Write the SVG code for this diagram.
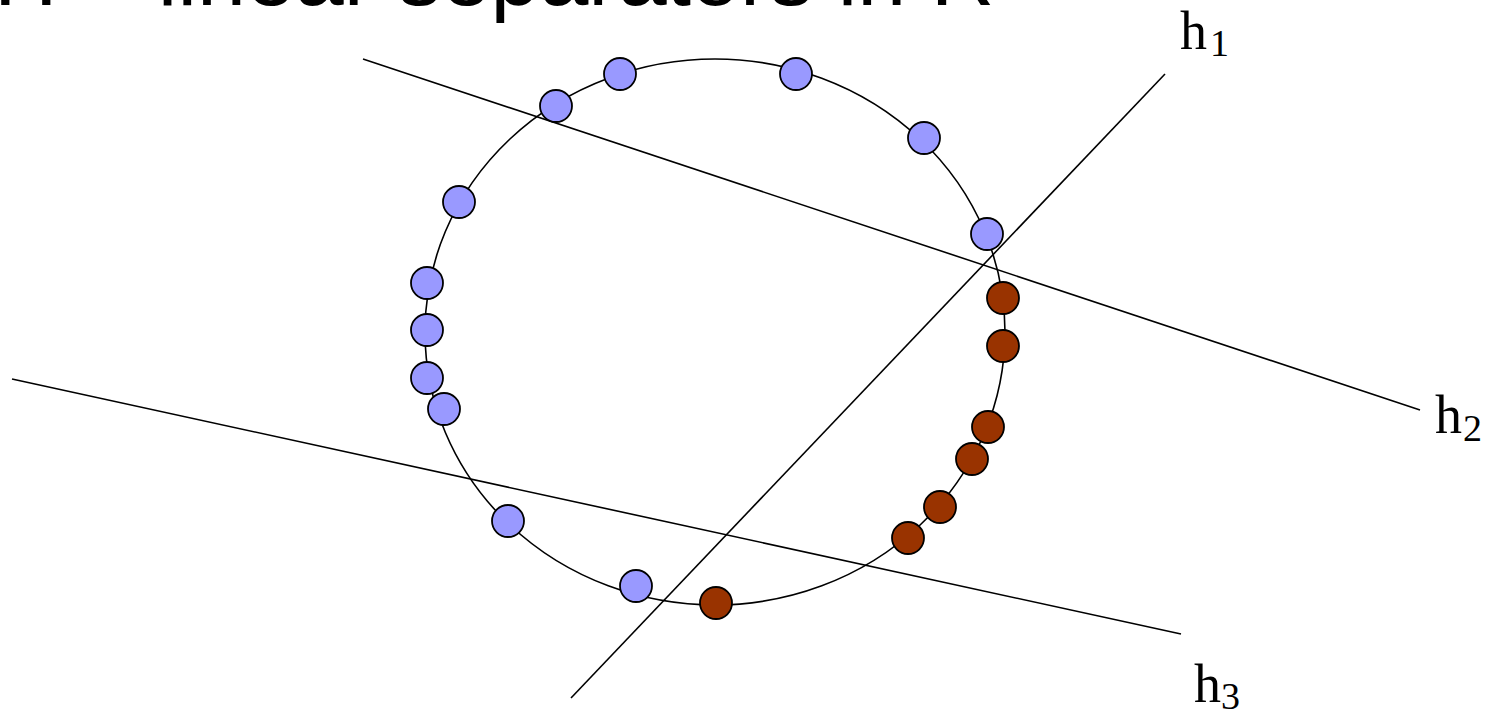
<svg xmlns="http://www.w3.org/2000/svg" width="1489" height="713" viewBox="0 0 1489 713">
<style>
.title{font-family:"Liberation Sans",Arial,sans-serif;font-size:88px;fill:#000}
.lbl{font-family:"Liberation Serif","Times New Roman",serif;font-size:54px;fill:#000}
.sub{font-family:"Liberation Serif","Times New Roman",serif;font-size:38px;fill:#000}
.ln{stroke:#000;stroke-width:1.6;fill:none}
.blue{fill:#9999ff;stroke:#000;stroke-width:1.8}
.red{fill:#993300;stroke:#000;stroke-width:1.8}
</style>
<rect width="1489" height="713" fill="#fff"/>
<text class="title" x="-6" y="5">H = linear separators in R</text>
<g id="circle"><ellipse class="ln" cx="715" cy="332" rx="290" ry="273"/></g>
<g id="connectors">
<line class="ln" x1="571" y1="698" x2="1165" y2="74"/>
<line class="ln" x1="363" y1="59" x2="1420" y2="410"/>
<line class="ln" x1="12" y1="379" x2="1181" y2="634"/>
</g>
<g id="points-blue">
<circle class="blue" cx="620" cy="74" r="16"/>
<circle class="blue" cx="796" cy="74" r="16"/>
<circle class="blue" cx="556" cy="106" r="16"/>
<circle class="blue" cx="924" cy="138" r="16"/>
<circle class="blue" cx="459" cy="202" r="16"/>
<circle class="blue" cx="987" cy="234" r="16"/>
<circle class="blue" cx="427" cy="283" r="16"/>
<circle class="blue" cx="427" cy="330" r="16"/>
<circle class="blue" cx="427" cy="378" r="16"/>
<circle class="blue" cx="444" cy="409" r="16"/>
<circle class="blue" cx="508" cy="521" r="16"/>
<circle class="blue" cx="636" cy="586" r="16"/>
</g>
<g id="points-red">
<circle class="red" cx="1003" cy="298" r="16"/>
<circle class="red" cx="1003" cy="346" r="16"/>
<circle class="red" cx="988" cy="427" r="16"/>
<circle class="red" cx="972" cy="459" r="16"/>
<circle class="red" cx="940" cy="507" r="16"/>
<circle class="red" cx="908" cy="538" r="16"/>
<circle class="red" cx="716" cy="603" r="16"/>
</g>
<g id="label-h1"><text class="lbl" x="1180" y="49">h</text><text class="sub" x="1210" y="56">1</text></g>
<g id="label-h2"><text class="lbl" x="1435" y="433">h</text><text class="sub" x="1463" y="441">2</text></g>
<g id="label-h3"><text class="lbl" x="1194" y="702">h</text><text class="sub" x="1221" y="709">3</text></g>
</svg>
